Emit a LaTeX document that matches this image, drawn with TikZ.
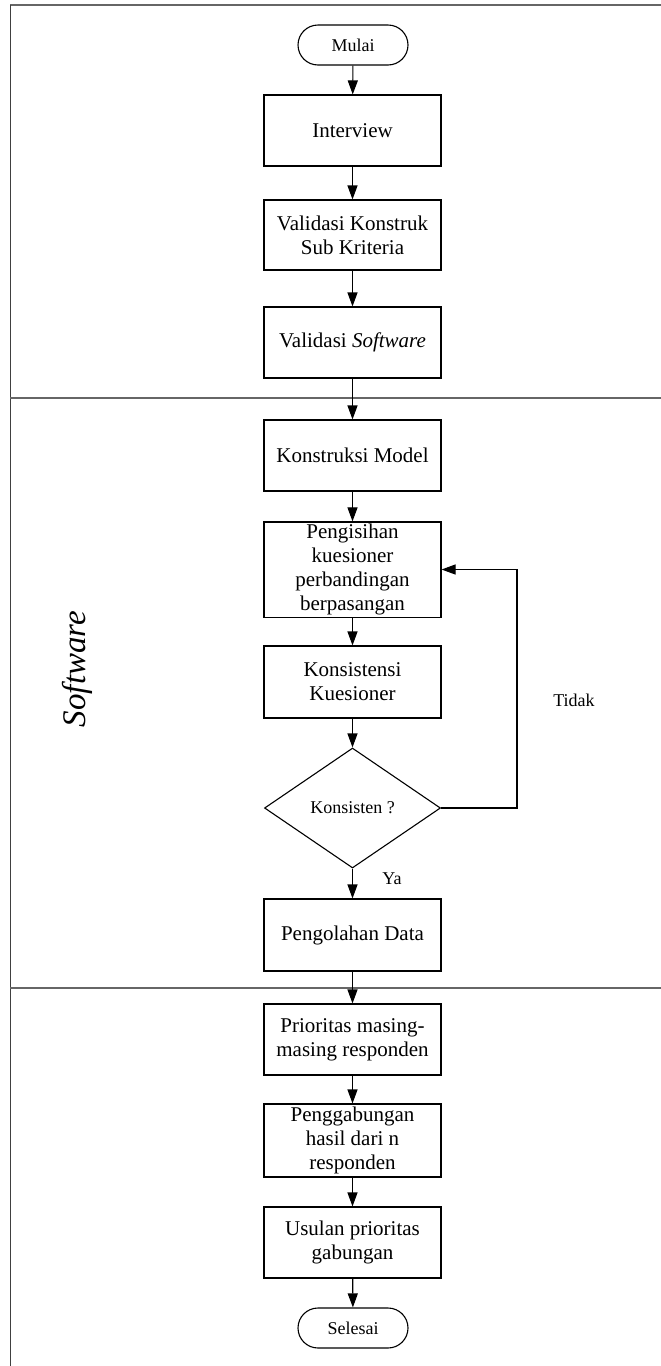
\documentclass[tikz,border=0pt]{standalone}
\usepackage{fontspec}
\setmainfont{Liberation Serif}
\usetikzlibrary{shapes.geometric,arrows.meta}
\begin{document}
\begin{tikzpicture}[x=1pt,y=1pt,
  frameline/.style={draw=black!60, line width=1.6pt},
  leftline/.style={draw=black!75, line width=1pt},
  procbox/.style={draw, line width=1.1pt, rectangle, minimum width=177pt, minimum height=71pt, inner sep=2pt, align=center, font=\fontsize{21}{24}\selectfont},
  termbox/.style={draw, line width=1.1pt, rectangle, rounded corners=20pt, minimum width=110pt, minimum height=40pt, inner sep=0pt, font=\fontsize{18}{21}\selectfont},
  decbox/.style={draw, line width=1.1pt, diamond, minimum width=176pt, minimum height=120pt, inner sep=0pt, font=\fontsize{18}{21}\selectfont},
  flow/.style={draw, line width=1.1pt, -{Triangle[length=14pt,width=10pt]}},
  lbl/.style={font=\fontsize{18}{21}\selectfont, inner sep=0pt}
]
\useasboundingbox (0,0) rectangle (661,-1366);
% frame
\draw[frameline] (10,-5) -- (661,-5);
\draw[leftline] (10,-5) -- (10,-1366);
\draw[frameline] (10,-398) -- (661,-398);
\draw[frameline] (10,-988) -- (661,-988);
% lane label
\node[rotate=90, inner sep=0pt, font=\fontsize{33}{36}\selectfont\itshape] (lane) at (77,-669) {Software};
% nodes
\node[termbox] (start) at (353,-45) {Mulai};
\node[procbox] (iv) at (352.5,-130.5) {Interview};
\node[procbox, minimum height=70pt] (vk) at (352.5,-235) {Validasi Konstruk\\Sub Kriteria};
\node[procbox] (vs) at (352.5,-342.5) {Validasi \textit{Software}};
\node[procbox] (km) at (352.5,-455.5) {Konstruksi Model};
\node[procbox, minimum height=93pt] (pk) at (352.5,-569.5) {Pengisihan\\kuesioner\\perbandingan\\berpasangan};
\node[procbox, minimum height=72pt] (kk) at (352.5,-682) {Konsistensi\\Kuesioner};
\node[decbox] (dia) at (352.5,-808) {Konsisten ?};
\node[procbox, minimum height=72pt] (pd) at (352.5,-935) {Pengolahan Data};
\node[procbox] (pr) at (352.5,-1039.5) {Prioritas masing-\\masing responden};
\node[procbox, minimum height=73pt] (pg) at (352.5,-1140.5) {Penggabungan\\hasil dari n\\responden};
\node[procbox] (us) at (352.5,-1242.5) {Usulan prioritas\\gabungan};
\node[termbox] (end) at (353,-1328) {Selesai};
% labels
\node[lbl] (tidak) at (574,-700) {Tidak};
\node[lbl] (ya) at (392,-879) {Ya};
% connectors
\draw[flow] (start) -- (iv);
\draw[flow] (iv) -- (vk);
\draw[flow] (vk) -- (vs);
\draw[flow] (vs) -- (km);
\draw[flow] (km) -- (pk);
\draw[flow] (pk) -- (kk);
\draw[flow] (kk) -- (dia);
\draw[flow] (dia) -- (pd);
\draw[flow] (pd) -- (pr);
\draw[flow] (pr) -- (pg);
\draw[flow] (pg) -- (us);
\draw[flow] (us) -- (end);
\coordinate (lp) at (517,-569.5);
\draw[flow] (dia.east) -| (lp) -- (pk.east);
\end{tikzpicture}
\end{document}
